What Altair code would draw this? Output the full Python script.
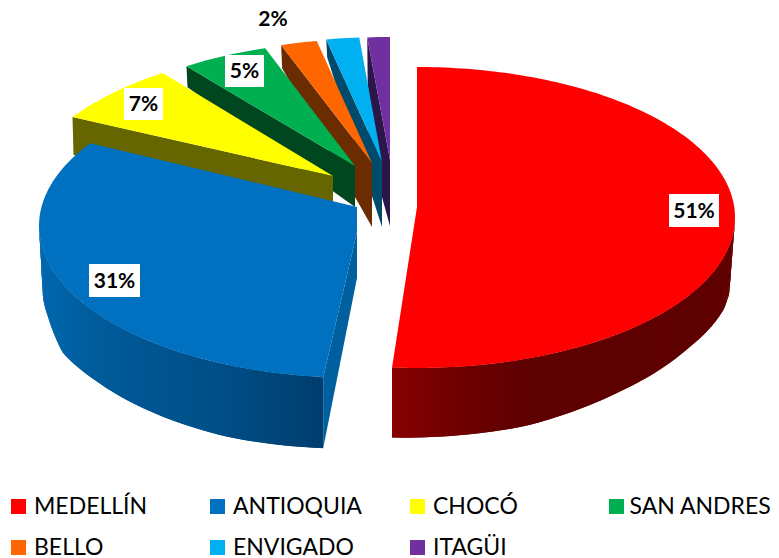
import math
import altair as alt
import pandas as pd

# ---- data ----
names = ["MEDELLÍN", "ANTIOQUIA", "CHOCÓ", "SAN ANDRES", "BELLO", "ENVIGADO", "ITAGÜI"]
percent = [51, 31, 7, 5, 2, 2, 2]
label_shown = [True, True, True, True, True, False, False]
# slice angles as drawn (degrees clockwise from 12 o'clock, tilted 3-D pie)
angle_start = [0.0, 186.1, 305.0, 328.0, 343.4, 349.9, 355.9]
angle_end = [184.5, 303.0, 327.6, 343.6, 350.0, 355.9, 360.0]

# ---- styles ----
top_color = ["#ff0000", "#0070c0", "#ffff00", "#00b050", "#ff6600", "#00b0f0", "#7030a0"]
wall_color = ["#7a0000", "#005f9e", "#666600", "#00461f", "#6a2c00", "#004a6b", "#2c1548"]
# outer wall profile: angle, drop below the rim, sideways shift, shade
red_wall = [(90, 68, -6, "#620000"), (100, 56, -3, "#600000"), (106, 52, 0, "#600000"),
            (121, 52, 0, "#5e0000"), (140, 58, 0, "#5e0000"), (160, 67, 0, "#5e0000"),
            (175, 69, 0, "#740000"), (184.5, 70, 0, "#8a0000")]
blue_wall = [(186.1, 71, 0, "#003e70"), (204, 72, 0, "#004f88"), (235, 68, 0, "#005c9c"),
             (248, 69, 0, "#0064a8"), (257, 54, 0, "#0066ad"), (270, 54, 4, "#0068b0")]

# ---- layout (page pixels) ----
OFF = 8
A = 318
cx = [417, 357, 333, 355, 372, 382, 390]
cy = [217.5, 226, 210.6, 203.6, 198.5, 197, 197]
b = [150.5, 152, 163, 162, 160, 160, 160]
apex_y = [207, 232, 176, 166, 163, 162, 160]
apex_depth = [0, 46, 27, 41, 64, 65, 66]
rim_depth = [70, 71, 38, 21, 23, 18, 110]
box_center = [(694, 210.5), (114.5, 280.5), (143.5, 104), (244.5, 71), (273, 19)]
box_half = [(25, 16.5), (25.5, 16.5), (19.5, 16), (19.5, 16), None]
legend_x = [11, 210, 410, 609]
legend_tx = [34, 233, 433, 629.5]
legend_y = [506.5, 547.5]


def rim(i, deg, drop=0.0, shift=0.0):
    t = math.radians(deg)
    return (cx[i] + A * math.sin(t) - OFF + shift, cy[i] - b[i] * math.cos(t) + drop - OFF)


def feature(points, color):
    ring = [[round(x, 2), round(y, 2)] for x, y in points]
    ring.append(ring[0])
    return {
        "type": "Feature",
        "geometry": {"type": "Polygon", "coordinates": [ring]},
        "properties": {"c": color},
    }


def mix(c1, c2, f):
    p = [int(c1[k:k + 2], 16) for k in (1, 3, 5)]
    q = [int(c2[k:k + 2], 16) for k in (1, 3, 5)]
    return "#%02x%02x%02x" % tuple(round(u + (v - u) * f) for u, v in zip(p, q))


def arc_points(i, s, e, step=1.0):
    n = max(2, int(abs(e - s) / step))
    return [rim(i, s + (e - s) * k / n) for k in range(n + 1)]


def profile(stops, deg):
    for u, v in zip(stops, stops[1:]):
        if u[0] <= deg <= v[0]:
            f = (deg - u[0]) / (v[0] - u[0])
            return u[1] + (v[1] - u[1]) * f, u[2] + (v[2] - u[2]) * f, mix(u[3], v[3], f)
    last = stops[0] if deg < stops[0][0] else stops[-1]
    return last[1], last[2], last[3]


def outer_wall(i, stops):
    """Wall under the rim, painted strip over strip so that no seams show."""
    s, e = stops[0][0], stops[-1][0]
    n = int((e - s) / 1.0)
    out = []
    for k in range(n):
        a0 = s + (e - s) * k / n
        a1 = s + (e - s) * min(k + 2, n) / n
        d0, x0, c = profile(stops, a0)
        d1, x1, _ = profile(stops, a1)
        out.append(feature([rim(i, a0), rim(i, a1), rim(i, a1, d1, x1), rim(i, a0, d0, x0)], c))
    return out


features = []
# back slices: from ITAGÜI forward to CHOCÓ
for i in [6, 5, 4, 3, 2]:
    s, e = angle_start[i], angle_end[i]
    ax, ay = cx[i] - OFF, apex_y[i] - OFF
    p = rim(i, s)
    features.append(feature([p, (ax, ay), (ax, ay + apex_depth[i]), (p[0] + 1, p[1] + rim_depth[i])], wall_color[i]))
    features.append(feature(arc_points(i, s, e) + [(ax, ay)], top_color[i]))

# ANTIOQUIA
i = 1
ax = cx[i] - OFF
tip = rim(i, angle_start[i])
features.extend(reversed(outer_wall(i, blue_wall)))
features.append(feature([(ax, apex_y[i] - OFF), tip, (tip[0], tip[1] + rim_depth[i]),
                         (ax, apex_y[i] - OFF + apex_depth[i])], wall_color[i]))
features.append(feature(arc_points(i, angle_start[i], angle_end[i]) +
                        [(ax, 207 - OFF), (ax, apex_y[i] - OFF)], top_color[i]))

# MEDELLÍN
i = 0
ax = cx[i] - OFF
features.extend(outer_wall(i, red_wall))
features.append(feature(arc_points(i, angle_start[i], angle_end[i]) + [(ax, apex_y[i] - OFF)], top_color[i]))

pie = alt.Chart(alt.InlineData(values=features)).mark_geoshape(strokeWidth=0).encode(
    color=alt.Color("properties.c:N", scale=None),
).project(type="identity", scale=1, translate=[0, 0])

# white label boxes and percent labels
shown = [p for p, s in zip(percent, label_shown) if s]
boxes = pd.DataFrame([
    {"x0": c[0] - h[0] - OFF, "x1": c[0] + h[0] - OFF, "y0": c[1] - h[1] - OFF, "y1": c[1] + h[1] - OFF}
    for c, h in zip(box_center, box_half) if h
])
box_layer = alt.Chart(boxes).mark_rect(color="white").encode(
    x=alt.X("x0:Q", scale=None, axis=None), x2="x1:Q",
    y=alt.Y("y0:Q", scale=None, axis=None), y2="y1:Q",
)
labels = pd.DataFrame({
    "x": [c[0] - OFF for c in box_center],
    "y": [c[1] - OFF + 1 for c in box_center],
    "t": [f"{p}%" for p in shown],
})
label_layer = alt.Chart(labels).mark_text(
    font="Lato", fontSize=21, fontWeight="bold", color="black", baseline="middle", align="center"
).encode(x=alt.X("x:Q", scale=None, axis=None), y=alt.Y("y:Q", scale=None, axis=None), text="t:N")

# legend
legend = pd.DataFrame({
    "x": [legend_x[k % 4] - OFF for k in range(7)],
    "tx": [legend_tx[k % 4] - OFF for k in range(7)],
    "y": [legend_y[k // 4] - OFF for k in range(7)],
    "name": names,
    "c": top_color,
})
sw = alt.Chart(legend).mark_square(size=225, opacity=1).encode(
    x=alt.X("sx:Q", scale=None, axis=None), y=alt.Y("y:Q", scale=None, axis=None),
    color=alt.Color("c:N", scale=None),
).transform_calculate(sx="datum.x + 7.5")
txt = alt.Chart(legend).mark_text(
    font="Lato", fontSize=23, color="black", baseline="middle", align="left"
).encode(x=alt.X("tx:Q", scale=None, axis=None), y=alt.Y("y:Q", scale=None, axis=None), text="name:N")

chart = alt.layer(pie, box_layer, label_layer, sw, txt).properties(
    width=763, height=550, padding=0, autosize=alt.AutoSizeParams(type="none"),
).configure_view(stroke=None)

chart.save("out.html", embed_options={"renderer": "svg", "actions": False})
